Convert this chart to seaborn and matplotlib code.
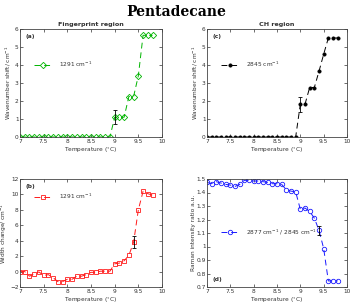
import numpy as np
import pandas as pd
import seaborn as sns
import matplotlib.pyplot as plt

# Daten
temp = [7.0, 7.1, 7.2, 7.3, 7.4, 7.5, 7.6, 7.7, 7.8, 7.9,
        8.0, 8.1, 8.2, 8.3, 8.4, 8.5, 8.6, 8.7, 8.8, 8.9,
        9.0, 9.1, 9.2, 9.3, 9.4, 9.5, 9.6, 9.7, 9.8]

shift_1291 = [0] * 20 + [1.1, 1.1, 1.1, 2.25, 2.25, 3.4, 5.65, 5.65, 5.65]
shift_2845 = [0] * 20 + [1.82, 1.82, 2.75, 2.75, 3.65, 4.6, 5.5, 5.5, 5.5]
width_1291 = [0.0, 0.0, -0.6, -0.3, -0.05, -0.5, -0.4, -0.8, -1.3, -1.3,
              -1.0, -1.0, -0.6, -0.6, -0.4, -0.1, -0.1, 0.05, 0.05, 0.05,
              1.0, 1.1, 1.4, 2.1, 3.8, 8.0, 10.4, 10.1, 9.9]
ratio = [1.475, 1.465, 1.48, 1.47, 1.46, 1.455, 1.445, 1.46, 1.49, 1.49,
         1.485, 1.485, 1.48, 1.475, 1.465, 1.465, 1.46, 1.42, 1.41, 1.405,
         1.275, 1.285, 1.26, 1.21, 1.12, 0.985, 0.745, 0.745, 0.745]

# Fehlerbalken: (x, y, Fehler)
err_a = (9.0, 1.12, 0.38)
err_c = (9.0, 1.8, 0.4)
err_b = (9.4, 3.8, 0.8)
err_d = (9.4, 1.12, 0.035)

df = pd.DataFrame({"temp": temp, "shift_1291": shift_1291, "shift_2845": shift_2845,
                   "width_1291": width_1291, "ratio": ratio})

sns.set_style("ticks")
fs = 4.2
plt.rcParams.update({
    "font.family": ["DejaVu Sans"],
    "xtick.direction": "in", "ytick.direction": "in",
    "xtick.top": True, "ytick.right": True,
    "xtick.major.size": 2, "ytick.major.size": 2,
    "xtick.major.width": 0.5, "ytick.major.width": 0.5,
    "axes.linewidth": 0.6, "axes.edgecolor": "#444444",
    "xtick.labelsize": fs, "ytick.labelsize": fs,
    "xtick.major.pad": 1.5, "ytick.major.pad": 1.0,
    "axes.labelsize": fs, "axes.labelpad": 1.0,
    "text.color": "#333333", "xtick.color": "#333333", "ytick.color": "#333333",
    "axes.labelcolor": "#333333",
})

fig = plt.figure(figsize=(3.53, 3.07), dpi=100)
W, H = 353, 307
def rect(l, t, r, b):
    return [l / W, 1 - b / H, (r - l) / W, (b - t) / H]

ax_a = fig.add_axes(rect(20, 29, 162, 137))
ax_c = fig.add_axes(rect(207, 29, 347, 137))
ax_b = fig.add_axes(rect(20, 179, 162, 287))
ax_d = fig.add_axes(rect(207, 179, 347, 287))

panels = [
    (ax_a, "shift_1291", "#00b400", "D", "none", err_a, "1291 cm$^{-1}$"),
    (ax_c, "shift_2845", "black", "o", "black", err_c, "2845 cm$^{-1}$"),
    (ax_b, "width_1291", "#ff1a1a", "s", "none", err_b, "1291 cm$^{-1}$"),
    (ax_d, "ratio", "#1a1aff", "o", "none", err_d, "2877 cm$^{-1}$ / 2845 cm$^{-1}$"),
]

for ax, col, color, marker, mfc, err, lab in panels:
    ms = 2.3 if mfc == "black" else 3.2
    sns.lineplot(data=df, x="temp", y=col, ax=ax, color=color, marker=marker,
                 markersize=ms, markerfacecolor=mfc, markeredgecolor=color,
                 markeredgewidth=0.6, linewidth=0.7, label=lab)
    ax.lines[0].set_dashes((6, 4))
    ax.errorbar(err[0], err[1], yerr=err[2], color="black", capsize=1.5,
                elinewidth=0.6, capthick=0.6, fmt="none")
    ax.set_xlim(7, 10)
    ax.set_xticks([7, 7.5, 8, 8.5, 9, 9.5, 10])
    ax.set_xticklabels(["7", "7.5", "8", "8.5", "9", "9.5", "10"])
    ax.set_xlabel("Temperature ($^{\\circ}$C)")

leg_kw = dict(frameon=False, fontsize=fs, handlelength=3.2, handletextpad=1.2,
              loc="center left")

for ax, letter in ((ax_a, "(a)"), (ax_c, "(c)")):
    ax.set_ylim(0, 6)
    ax.set_ylabel("Wavenumber shift/ cm$^{-1}$")
    ax.legend(bbox_to_anchor=(0.06, 0.67), **leg_kw)
    ax.text(0.04, 0.95, letter, transform=ax.transAxes,
            fontsize=fs, fontweight="bold", va="top")

ax_b.set_ylim(-2, 12)
ax_b.set_yticks(range(-2, 13, 2))
ax_b.set_ylabel("Width change/ cm$^{-1}$", labelpad=0.5)
ax_b.legend(bbox_to_anchor=(0.06, 0.84), **leg_kw)
ax_b.text(0.04, 0.95, "(b)", transform=ax_b.transAxes, fontsize=fs,
          fontweight="bold", va="top")

ax_d.set_ylim(0.7, 1.5)
ax_d.set_yticks([0.7, 0.8, 0.9, 1.0, 1.1, 1.2, 1.3, 1.4, 1.5])
ax_d.set_yticklabels(["0.7", "0.8", "0.9", "1", "1.1", "1.2", "1.3", "1.4", "1.5"])
ax_d.set_ylabel("Raman intensity ratio a.u.", labelpad=0.5)
ax_d.legend(bbox_to_anchor=(0.06, 0.51), **leg_kw)
ax_d.text(0.04, 0.05, "(d)", transform=ax_d.transAxes, fontsize=fs,
          fontweight="bold", va="bottom")

ax_a.set_title("Fingerprint region", fontsize=4.6, fontweight="bold", pad=2)
ax_c.set_title("CH region", fontsize=4.6, fontweight="bold", pad=2)

fig.suptitle("Pentadecane", fontsize=10, fontweight="bold",
             family=["DejaVu Serif"], y=0.985, color="black")

fig.savefig("out.png", dpi=100)
